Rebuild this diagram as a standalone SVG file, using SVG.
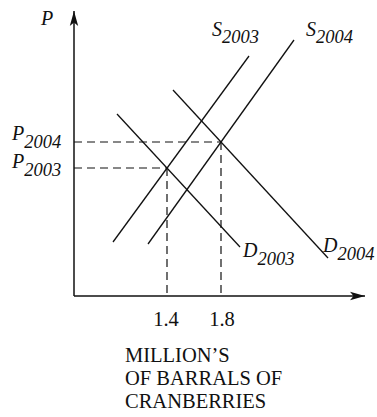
<svg xmlns="http://www.w3.org/2000/svg" width="377" height="417" viewBox="0 0 377 417">
<style>
.ax{stroke:#111;stroke-width:1.5;fill:none}
.cv{stroke:#111;stroke-width:1.3;fill:none}
.ds{stroke:#111;stroke-width:1.2;fill:none;stroke-dasharray:8 5}
.t{font-family:"Liberation Serif","Times New Roman",serif;fill:#111}
.i{font-style:italic}
.m{font-size:20px}
.s{font-size:18.5px}
.b{font-size:20.5px}
</style>
<defs>
<marker id="arr" markerWidth="16" markerHeight="10" refX="15" refY="5" orient="auto" markerUnits="userSpaceOnUse">
<path d="M0,0.8 L15,5 L0,9.2 L3.5,5 Z" fill="#111"/>
</marker>
</defs>
<rect width="377" height="417" fill="#fff"/>
<g id="axes">
<line class="ax" x1="74" y1="296" x2="74" y2="11" marker-end="url(#arr)"/>
<line class="ax" x1="74" y1="296" x2="365" y2="296" marker-end="url(#arr)"/>
</g>
<g id="connectors">
<line class="ds" x1="74" y1="142" x2="221" y2="142"/>
<line class="ds" x1="74" y1="168" x2="167" y2="168"/>
<line class="ds" x1="167" y1="168" x2="167" y2="294"/>
<line class="ds" x1="221" y1="142" x2="221" y2="294"/>
</g>
<g id="S2003">
<line class="cv" x1="113" y1="242" x2="249" y2="56"/>
<text class="t i m" x="212" y="36">S<tspan class="s" dy="7">2003</tspan></text>
</g>
<g id="S2004">
<line class="cv" x1="148" y1="244" x2="294" y2="40"/>
<text class="t i m" x="306" y="36">S<tspan class="s" dy="7">2004</tspan></text>
</g>
<g id="D2003">
<line class="cv" x1="117" y1="114" x2="240" y2="247"/>
<text class="t i m" x="243" y="257">D<tspan class="s" dy="8">2003</tspan></text>
</g>
<g id="D2004">
<line class="cv" x1="173" y1="90" x2="328" y2="258"/>
<text class="t i m" x="323" y="252">D<tspan class="s" dy="8">2004</tspan></text>
</g>
<g id="labels">
<text class="t i m" x="41" y="25">P</text>
<text class="t i m" x="12" y="140">P<tspan class="s" dy="8">2004</tspan></text>
<text class="t i m" x="12" y="168">P<tspan class="s" dy="8">2003</tspan></text>
<text class="t b" x="166" y="326" text-anchor="middle">1.4</text>
<text class="t b" x="222" y="326" text-anchor="middle">1.8</text>
<text class="t b" x="125" y="362">MILLION’S</text>
<text class="t b" x="125" y="385">OF BARRALS OF</text>
<text class="t b" x="125" y="408">CRANBERRIES</text>
</g>
</svg>
